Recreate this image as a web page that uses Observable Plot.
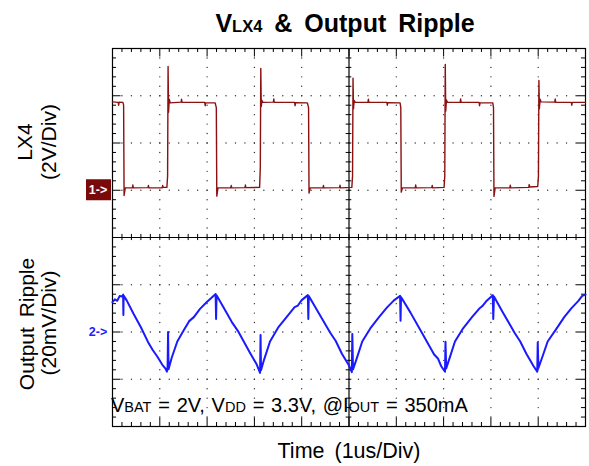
<!DOCTYPE html>
<html><head><meta charset="utf-8">
<script src="https://cdn.jsdelivr.net/npm/d3@7"></script>
<script src="https://cdn.jsdelivr.net/npm/@observablehq/plot@0.6"></script>
<style>body{margin:0;background:#fff} svg{display:block}</style>
</head><body><div id="chart"></div>
<script>
// LX4 switching node (time in µs, volts; 2 V/div, ground marker at +1 div)
const lxT = [0,0.12,0.13,0.14,0.22,0.235,0.245,0.27,0.42,0.43,0.44,0.75,0.76,0.77,1.05,1.06,1.07,1.15,1.165,1.175,1.185,1.2,1.22,1.45,1.46,1.47,1.95,1.96,1.97,2.17,
  2.195,2.205,2.23,2.5,2.51,2.52,2.8,2.81,2.82,3.11,3.125,3.135,3.145,3.16,3.18,3.4,3.41,3.42,3.85,3.86,3.87,4.12,
  4.145,4.155,4.18,4.45,4.46,4.47,4.8,4.81,4.82,5.06,5.075,5.085,5.095,5.11,5.13,5.4,5.41,5.42,5.8,5.81,5.82,6.08,
  6.095,6.105,6.13,6.4,6.41,6.42,6.75,6.76,6.77,7.01,7.025,7.035,7.045,7.06,7.08,7.35,7.36,7.37,7.75,7.76,7.77,8.04,
  8.055,8.065,8.09,8.4,8.41,8.42,8.8,8.81,8.82,8.99,9.005,9.015,9.025,9.04,9.06,9.35,9.36,9.37,9.7,9.71,9.72,10];
const lxV = [3.74,3.72,3.6,3.73,3.72,3.6,-0.22,0.1,0.1,0.22,0.1,0.11,0.2,0.1,0.1,0.2,0.12,0.12,0.6,5.24,3.3,3.85,3.7,3.73,3.85,3.72,3.72,3.58,3.7,3.7,
  3.5,-0.25,0.1,0.1,0.2,0.1,0.11,0.22,0.11,0.12,1.0,5.16,3.55,3.8,3.72,3.73,3.86,3.72,3.72,3.58,3.71,3.7,
  3.5,-0.12,0.1,0.1,0.2,0.1,0.11,0.21,0.1,0.12,0.6,4.74,3.45,3.8,3.72,3.72,3.85,3.72,3.72,3.6,3.71,3.7,
  3.5,-0.08,0.1,0.1,0.22,0.1,0.11,0.2,0.1,0.12,0.6,5.33,3.35,3.82,3.72,3.72,3.86,3.72,3.72,3.58,3.7,3.7,
  3.5,-0.26,0.1,0.1,0.21,0.1,0.12,0.24,0.14,0.16,0.6,4.65,3.45,3.85,3.74,3.73,3.86,3.72,3.72,3.6,3.72,3.72];
// Output ripple (time in µs, mV; 20 mV/div, reference marker at -2 div)
const ripT = [0,0.05,0.1,0.15,0.2,0.225,0.23,0.235,0.3,0.45,0.6,0.75,0.85,0.95,1.05,1.12,1.15,1.165,1.175,1.185,1.25,1.37,1.5,1.62,1.72,1.85,2.0,2.1,2.18,2.19,2.2,
  2.4,2.52,2.65,2.9,3.05,3.12,3.13,3.14,3.2,3.33,3.5,3.68,3.85,3.92,4.0,4.13,4.14,4.15,
  4.35,4.6,4.72,4.85,5.0,5.06,5.07,5.085,5.15,5.28,5.45,5.63,5.8,5.95,6.08,6.09,6.1,
  6.3,6.55,6.8,6.88,6.95,7.03,7.04,7.055,7.12,7.24,7.4,7.6,7.75,7.82,7.9,8.04,8.05,8.065,
  8.25,8.5,8.62,8.75,8.9,8.98,8.99,9.005,9.08,9.2,9.38,9.55,9.7,9.85,9.93,10];
const ripMV = [12.6,13.8,13.2,15.2,15.0,15.8,7.2,15.4,13.4,7.5,2.0,-4.2,-7.6,-10.5,-13.8,-15.5,-16.8,-14.5,0.0,-15.8,-11,-4,0.5,4.6,6.3,9.8,12.8,14.6,16.1,5.5,15.6,
  8.6,4.3,0.5,-8.6,-13.8,-17.3,-1.3,-16.2,-12,-4,1.8,6.3,10.5,11.2,13.5,15.6,5.5,15.2,
  8.4,-0.2,-3.8,-9.2,-14.2,-17,-0.8,-15.8,-12,-4,1.5,6.2,10.3,13.4,15.3,4.8,14.8,
  8.2,-0.6,-9.5,-11.2,-14.5,-16.8,-4.1,-15.4,-11.5,-4,1.2,6.3,9.8,11.0,13,15.6,5.5,15.0,
  8.4,-0.3,-4.0,-9.2,-14.4,-16.8,-4.4,-15.2,-11,-4,1.2,6.3,10,13.2,15.3,15.8];

const lxData = lxT.map((t, i) => ({t, y: 1 + lxV[i] / 2}));
const ripData = ripT.map((t, i) => ({t, y: -2 + ripMV[i] / 20}));

// graticule: 10 x 8 divisions, 5 subdivisions each
const xMinor = d3.range(0, 51).map(i => i / 5);
const yMinor = d3.range(-20, 21).map(i => i / 5);
const xMajorIn = [1,2,3,4,6,7,8,9];
const yMajorIn = [-3,-2,-1,1,2,3];
const isMaj = v => Math.abs(v - Math.round(v)) < 1e-6;
const gridPts = [];
xMajorIn.forEach(x => yMinor.forEach(y => { if (Math.abs(y) < 3.99) gridPts.push({x, y}); }));
yMajorIn.forEach(y => xMinor.forEach(x => { if (x > 0.01 && x < 9.99) gridPts.push({x, y}); }));
const tl = v => isMaj(v) ? 0.18 : 0.085;

const chart = Plot.plot({
  width: 589, height: 466,
  marginLeft: 112, marginRight: 4, marginTop: 48, marginBottom: 40,
  x: {domain: [0, 10], axis: null},
  y: {domain: [-4, 4], axis: null},
  style: {fontFamily: "'Liberation Sans', Arial, sans-serif", background: "white"},
  marks: [
    Plot.dot(gridPts, {x: "x", y: "y", r: 0.7, fill: "#333", stroke: null}),
    Plot.ruleX([5], {stroke: "black", strokeWidth: 1.2}),
    Plot.ruleY([0], {stroke: "black", strokeWidth: 1.2}),
    Plot.ruleY(yMinor, {y: d => d, x1: () => 4.94, x2: () => 5.06, stroke: "black"}),
    Plot.ruleX(xMinor, {x: d => d, y1: () => -0.065, y2: () => 0.065, stroke: "black"}),
    Plot.ruleY(yMinor, {y: d => d, x1: () => 0, x2: d => tl(d), stroke: "black"}),
    Plot.ruleY(yMinor, {y: d => d, x1: d => 10 - tl(d), x2: () => 10, stroke: "black"}),
    Plot.ruleX(xMinor, {x: d => d, y1: d => 4 - tl(d), y2: () => 4, stroke: "black"}),
    Plot.ruleX(xMinor, {x: d => d, y1: () => -4, y2: d => -4 + tl(d), stroke: "black"}),
    Plot.frame({stroke: "black", strokeWidth: 1.2}),
    Plot.line(lxData, {x: "t", y: "y", stroke: "#8b1010", strokeWidth: 1.4}),
    Plot.line(ripData, {x: "t", y: "y", stroke: "#1a1aff", strokeWidth: 2})
  ]
});
document.getElementById("chart").append(chart);

const svg = d3.select(chart);
const FONT = "'Liberation Sans', Arial, sans-serif";
function addText(parts, x, y, o = {}) {
  const t = svg.append("text").attr("x", x).attr("y", y)
    .attr("font-family", FONT).attr("fill", o.fill || "black")
    .attr("text-anchor", o.anchor || "start");
  if (o.weight) t.attr("font-weight", o.weight);
  if (o.rotate) t.attr("transform", `rotate(-90 ${x} ${y})`);
  if (o.ws) t.attr("word-spacing", o.ws);
  parts.forEach(([s, size]) => t.append("tspan").attr("font-size", size).text(s));
  return t;
}
const ys = chart.scale("y");
// title
addText([["V", 25], ["LX4", 16.5], [" & Output Ripple", 25]], 345, 32, {anchor: "middle", weight: "bold", ws: 5});
// axis-like labels
addText([["LX4", 21]], 32, 142, {anchor: "middle", rotate: true});
addText([["(2V/Div)", 21]], 56, 142, {anchor: "middle", rotate: true});
addText([["Output Ripple", 21]], 34, 324, {anchor: "middle", rotate: true, ws: 4});
addText([["(20mV/Div)", 21]], 56, 323, {anchor: "middle", rotate: true});
addText([["Time (1us/Div)", 21.5]], 349, 458, {anchor: "middle", ws: 4});
// conditions
addText([["V", 20], ["BAT", 14.5], [" = 2V, V", 20], ["DD", 14.5], [" = 3.3V, @I", 20], ["OUT", 14.5], [" = 350mA", 20]], 111, 412, {ws: 1.2});
// channel markers
const y1 = ys.apply(1), y2 = ys.apply(-2);
svg.append("rect").attr("x", 86).attr("y", y1 - 10.5).attr("width", 25).attr("height", 21).attr("fill", "#7a0a0a");
addText([["1->", 12.5]], 98, y1 + 4.5, {anchor: "middle", fill: "white", weight: "bold"});
addText([["2->", 12.5]], 98, y2 + 4.5, {anchor: "middle", fill: "#2020ff", weight: "bold"});
</script>
</body></html>
